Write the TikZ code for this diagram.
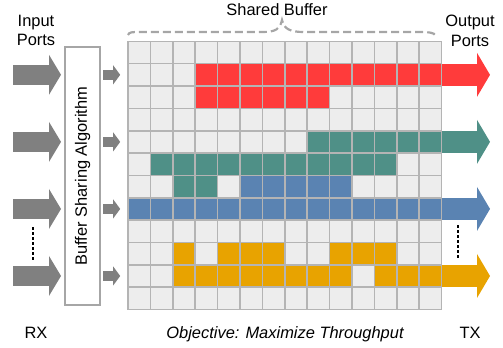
\documentclass[tikz,border=0pt]{standalone}
\usepackage{fontspec}
\usepackage{graphicx}
\setmainfont{Liberation Sans}
\usetikzlibrary{arrows.meta}
\definecolor{cellgray}{HTML}{EDEDED}
\definecolor{cellline}{HTML}{B4B4B4}
\definecolor{arrowgray}{HTML}{808080}
\definecolor{boxline}{HTML}{A6A6A6}
\definecolor{bufred}{HTML}{FF3B3B}
\definecolor{bufteal}{HTML}{4F9087}
\definecolor{bufblue}{HTML}{5A83B2}
\definecolor{bufgold}{HTML}{E8A300}
\begin{document}
\begin{tikzpicture}[x=1bp,y=-1bp,
		cell/.style={rectangle,draw=cellline,line width=1.6bp,fill=cellgray,minimum width=22.4bp,minimum height=22.35bp,inner sep=0pt},
		inport/.style={draw=arrowgray,line width=20bp,shorten >=3bp,-{Triangle[width=40bp,length=12bp,line width=0pt]}},
		feed/.style={draw=arrowgray,line width=10bp,shorten <=2bp,shorten >=7bp,-{Triangle[width=19bp,length=7bp,line width=0pt]}},
		outport/.style={line width=22.35bp,-{Triangle[width=44bp,length=13bp,line width=0pt]}},
		txt/.style={font=\fontsize{16.5}{20}\selectfont,inner sep=0pt}]
			\useasboundingbox (0,0) rectangle (503,347);
			% shared buffer cells
			\foreach \r in {0,...,11}
				\foreach \c in {0,...,13}
					\node[cell] (c\r-\c) at ({128+22.4*(\c+0.5)},{41.3+22.35*(\r+0.5)}) {};
			\foreach \r/\a/\b/\col in {1/3/13/bufred,2/3/8/bufred,4/8/13/bufteal,5/1/11/bufteal,6/2/3/bufteal,6/5/9/bufblue,7/0/13/bufblue,9/2/2/bufgold,9/4/6/bufgold,9/9/11/bufgold,10/2/9/bufgold,10/11/13/bufgold}
				\foreach \c in {\a,...,\b}
					\node[cell,fill=\col] at (c\r-\c) {};
			% algorithm box
			\node[rectangle,draw=boxline,line width=2bp,fill=white,minimum width=35bp,minimum height=258bp,inner sep=0pt] (algo) at (82.5,176) {\rotatebox{90}{\fontsize{16.5}{20}\selectfont Buffer Sharing Algorithm}};
			% ports
			\foreach \r [count=\i] in {1,4,7,10}{
				\coordinate (rx\i) at (13,{41.3+22.35*(\r+0.5)});
				\path[inport] (rx\i) -- (rx\i -| algo.west);
				\path[feed] (rx\i -| algo.east) -- (c\r-0.west);
			}
			\foreach \r/\col [count=\i] in {1/bufred,4/bufteal,7/bufblue,10/bufgold}{
				\coordinate (tx\i) at (490,{41.3+22.35*(\r+0.5)});
				\path[outport,draw=\col] (c\r-13.east) -- (tx\i);
			}
			% brace
			\draw[draw=boxline,line width=2.2bp,dash pattern=on 8bp off 4bp] (128,35) .. controls (129,32) and (132,32) .. (140,32) -- (262,32) .. controls (276,32) and (280,29) .. (282,20) .. controls (284,29) and (290,32) .. (304,32) -- (420,32) .. controls (430,32) and (434,33) .. (435,35);
			% dots
			\draw[line width=2.5bp,dash pattern=on 2.5bp off 2.5bp] (33,227) -- (33,260);
			\draw[line width=2.5bp,dash pattern=on 2.5bp off 2.5bp] (458,225) -- (458,260);
			% labels
			\node[txt,anchor=base] (shared) at (277,15) {Shared Buffer};
			\node[txt,anchor=north,align=center] (inlbl) at (36,14.5) {Input\\Ports};
			\node[txt,anchor=north,align=center] (outlbl) at (470,14.5) {Output\\Ports};
			\node[txt,anchor=base] (rxlbl) at (36,338) {RX};
			\node[txt,anchor=base] (txlbl) at (470,338) {TX};
			\node[txt,anchor=base,font=\fontsize{16.5}{20}\selectfont\itshape] (goal) at (285,338) {Objective: Maximize Throughput};
\end{tikzpicture}
\end{document}
